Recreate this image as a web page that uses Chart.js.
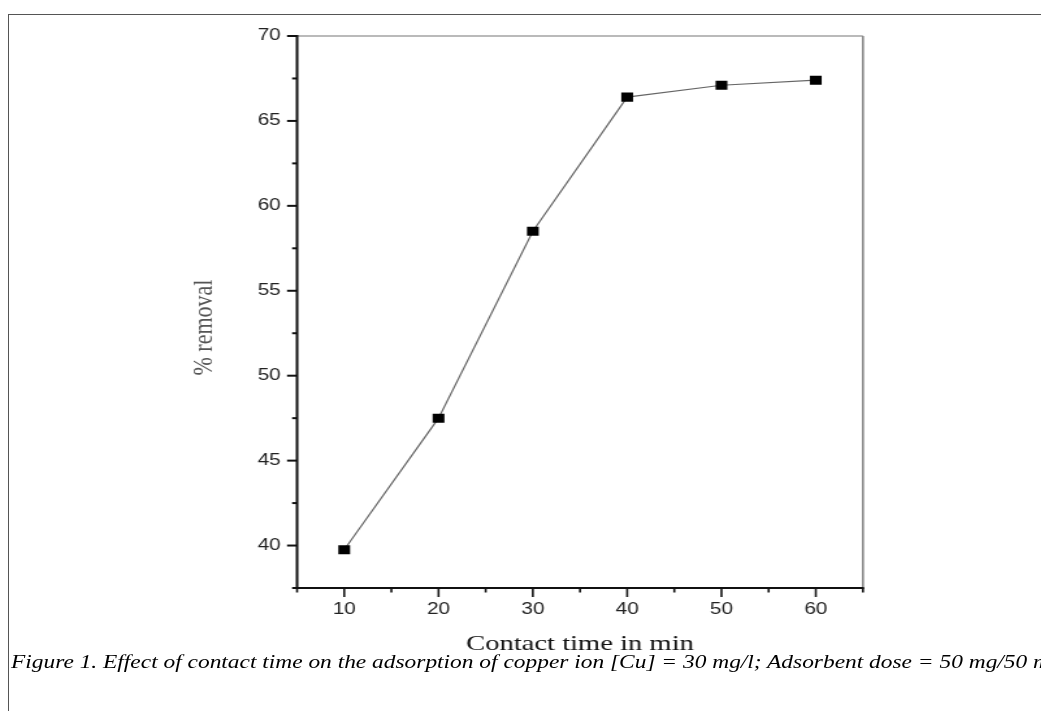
<!DOCTYPE html>
<html>
<head>
<meta charset="utf-8">
<title>Effect of contact time</title>
<script src="https://cdn.jsdelivr.net/npm/chart.js@4.4.0/dist/chart.umd.min.js"></script>
<style>
  body { margin: 0; background: #fff; width: 1041px; height: 711px; overflow: hidden; position: relative; }
  #frame { position: absolute; left: 8px; top: 14px; width: 1040px; height: 700px; border-left: 1px solid #555; border-top: 1px solid #555; }
  /* the original figure is stretched horizontally */
  #wrap { position: absolute; left: 0; top: 0; width: 801px; height: 661px; transform: scaleX(1.3); transform-origin: 0 0; }
  #caption { position: absolute; left: 11px; top: 652px; font: italic 18px "Liberation Serif", "Times New Roman", serif; line-height: 20px;
             white-space: nowrap; color: #000; transform: scaleX(1.3); transform-origin: 0 0; }
</style>
</head>
<body>
<div id="frame"></div>
<div id="wrap"><canvas id="contactChart" width="801" height="661"></canvas></div>
<div id="caption">Figure 1. Effect of contact time on the adsorption of copper ion [Cu] = 30 mg/l; Adsorbent dose = 50 mg/50 ml</div>

<script>
// Contact time (min) vs % removal
const contactTime = [10, 20, 30, 40, 50, 60];
const removal = [39.75, 47.5, 58.5, 66.4, 67.1, 67.4];
const xTickLabels = [10, 20, 30, 40, 50, 60];
const yTickLabels = [40, 45, 50, 55, 60, 65, 70];

const tickFont = { family: '"Liberation Sans", Arial, sans-serif', size: 16 };

// ticks, axis lines and y title, drawn Origin style
const axisDecor = {
    id: 'axisDecor',
    afterDraw(chart) {
        const { ctx, chartArea: a, scales: { x, y } } = chart;
        const line = (x1, y1, x2, y2) => {
            ctx.beginPath(); ctx.moveTo(x1, y1); ctx.lineTo(x2, y2); ctx.stroke();
        };
        ctx.save();
        ctx.strokeStyle = '#777'; ctx.lineWidth = 1.2;
        line(a.left, a.top, a.right, a.top);
        ctx.strokeStyle = '#888'; ctx.lineWidth = 1.6;
        line(a.right, a.top, a.right, a.bottom);

        ctx.strokeStyle = '#111'; ctx.lineWidth = 2;
        line(a.left, a.top - 1, a.left, a.bottom + 1);
        line(a.left, a.bottom, a.right + 0.8, a.bottom);

        y.ticks.forEach(t => {
            const py = y.getPixelForValue(t.value);
            const len = yTickLabels.includes(t.value) ? 7.7 : 3.8;
            line(a.left - len, py, a.left, py);
        });
        ctx.lineWidth = 1.6;
        x.ticks.forEach(t => {
            const px = x.getPixelForValue(t.value);
            const len = xTickLabels.includes(t.value) ? 9 : 4.5;
            line(px, a.bottom, px, a.bottom + len);
        });

        ctx.translate(157.3, 327.5);
        ctx.rotate(-Math.PI / 2);
        ctx.fillStyle = '#555';
        ctx.font = '22px "Liberation Serif", "Times New Roman", serif';
        ctx.textAlign = 'center';
        ctx.textBaseline = 'middle';
        ctx.fillText('% removal', 0, 0);
        ctx.restore();
    }
};

const ctx = document.getElementById('contactChart').getContext('2d');
new Chart(ctx, {
    type: 'line',
    data: {
        datasets: [{
            data: contactTime.map((t, i) => ({ x: t, y: removal[i] })),
            borderColor: '#666',
            borderWidth: 1.2,
            pointStyle: 'rect',
            pointRadius: 6.4,
            pointBackgroundColor: '#000',
            pointBorderColor: '#000',
            pointBorderWidth: 0,
            tension: 0
        }]
    },
    options: {
        responsive: false,
        animation: false,
        events: [],
        layout: { padding: { left: 140, top: 36, right: 137.2, bottom: 0 } },
        plugins: {
            legend: { display: false },
            tooltip: { enabled: false }
        },
        scales: {
            x: {
                type: 'linear',
                min: 5,
                max: 65,
                afterBuildTicks: (s) => {
                    const ticks = [];
                    for (let v = 5; v <= 65; v += 5) ticks.push({ value: v });
                    s.ticks = ticks;
                },
                afterFit: (s) => { s.height = 73; },
                grid: { display: false, drawTicks: false },
                border: { display: false },
                ticks: {
                    autoSkip: false,
                    maxRotation: 0,
                    padding: 12.4,
                    font: tickFont,
                    color: '#222',
                    callback: (v) => xTickLabels.includes(v) ? String(v) : ''
                },
                title: {
                    display: true,
                    text: 'Contact time in min',
                    color: '#111',
                    font: { family: '"Liberation Serif", "Times New Roman", serif', size: 22 },
                    padding: 4
                }
            },
            y: {
                min: 37.5,
                max: 70,
                afterBuildTicks: (s) => {
                    const ticks = [];
                    for (let v = 37.5; v <= 70; v += 2.5) ticks.push({ value: v });
                    s.ticks = ticks;
                },
                afterFit: (s) => { s.width = 88.5; },
                grid: { display: false, drawTicks: false },
                border: { display: false },
                ticks: {
                    autoSkip: false,
                    padding: 12.5,
                    font: tickFont,
                    color: '#222',
                    callback: (v) => yTickLabels.includes(v) ? String(v) : ''
                }
            }
        }
    },
    plugins: [axisDecor]
});
</script>
</body>
</html>
